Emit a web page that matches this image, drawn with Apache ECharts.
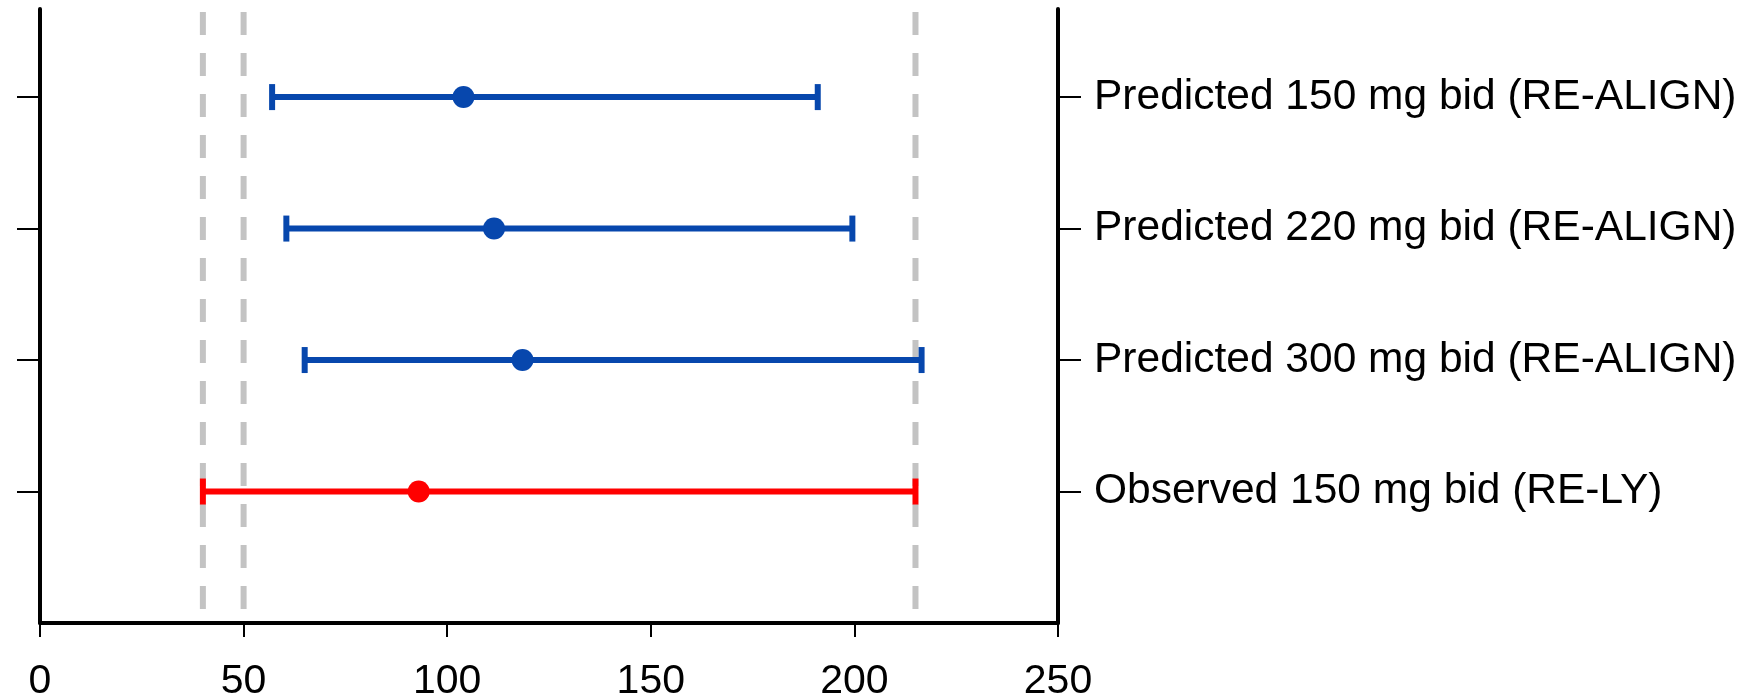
<!DOCTYPE html>
<html>
<head>
<meta charset="utf-8">
<script src="https://cdn.jsdelivr.net/npm/echarts@6/dist/echarts.min.js"></script>
<style>
html,body{margin:0;padding:0;background:#fff;}
#main{width:1756px;height:697px;}
</style>
</head>
<body>
<div id="main"></div>
<script>
// ---- data (bottom to top) ----
const categories = [
  'Observed 150 mg bid (RE-LY)',
  'Predicted 300 mg bid (RE-ALIGN)',
  'Predicted 220 mg bid (RE-ALIGN)',
  'Predicted 150 mg bid (RE-ALIGN)'
];
const medians = [93, 118.5, 111.5, 104];
const lower   = [40, 65, 60.5, 57];
const upper   = [215, 216.5, 199.5, 191];
const refLines = [40, 50, 215];
const xTickMin = 0, xTickMax = 250, xTickStep = 50;

// ---- styles ----
const FONT = '"Liberation Sans", Arial, sans-serif';
const RED = '#ff0000', BLUE = '#0747ad';
const rowColor = i => (i === 0 ? RED : BLUE);
const Y_MAX = 4.67;
const yPos = categories.map((c, i) => i + 1);

const chart = echarts.init(document.getElementById('main'), null, {renderer: 'canvas'});

const barData = categories.map((c, i) => [yPos[i], lower[i], upper[i], i]);
const pointData = categories.map((c, i) => ({
  value: [medians[i], yPos[i]],
  itemStyle: {color: rowColor(i), opacity: 1}
}));

const axisLineStyle = {color: '#000', width: 4};

chart.setOption({
  animation: false,
  grid: {left: 40, right: 698, top: 9, bottom: 74, containLabel: false, outerBoundsMode: 'none'},
  xAxis: {
    type: 'value', min: xTickMin, max: xTickMax, interval: xTickStep,
    axisLine: {show: true, lineStyle: axisLineStyle, onZero: false},
    axisTick: {show: true, length: 14, lineStyle: {color: '#000', width: 2}},
    axisLabel: {color: '#000', fontSize: 41, fontFamily: FONT, margin: 38},
    splitLine: {show: false}
  },
  yAxis: [
    {
      type: 'value', min: 0, max: Y_MAX, position: 'left',
      axisLine: {show: true, lineStyle: axisLineStyle, onZero: false},
      axisTick: {show: true, length: 23, lineStyle: {color: '#000', width: 2}, customValues: yPos},
      axisLabel: {show: false},
      splitLine: {show: false}
    },
    {
      type: 'value', min: 0, max: Y_MAX, position: 'right',
      axisLine: {show: true, lineStyle: axisLineStyle, onZero: false},
      axisTick: {show: true, length: 23, lineStyle: {color: '#000', width: 2}, customValues: yPos},
      axisLabel: {
        show: true, customValues: yPos, color: '#000', fontSize: 42.5, fontFamily: FONT, margin: 36,
        formatter: v => categories[Math.round(v) - 1] || ''
      },
      splitLine: {show: false}
    }
  ],
  series: [
    {
      type: 'custom',
      name: 'ref',
      z: 1,
      data: refLines.map(v => [v]),
      renderItem: (params, api) => {
        const top = api.coord([api.value(0), Y_MAX]);
        const bot = api.coord([api.value(0), 0]);
        return {
          type: 'line',
          shape: {x1: top[0], y1: top[1] + 3, x2: bot[0], y2: bot[1]},
          style: {stroke: '#c3c3c3', lineWidth: 6, lineDash: [23, 18]}
        };
      }
    },
    {
      type: 'custom',
      name: 'ci',
      z: 2,
      data: barData,
      encode: {x: [1, 2], y: 0},
      renderItem: (params, api) => {
        const y = api.value(0);
        const p1 = api.coord([api.value(1), y]);
        const p2 = api.coord([api.value(2), y]);
        const col = rowColor(api.value(3));
        const capH = 26, capW = 6;
        return {
          type: 'group',
          children: [
            {type: 'line', shape: {x1: p1[0], y1: p1[1], x2: p2[0], y2: p2[1]},
             style: {stroke: col, lineWidth: 6}},
            {type: 'rect', shape: {x: p1[0] - capW / 2, y: p1[1] - capH / 2, width: capW, height: capH},
             style: {fill: col}},
            {type: 'rect', shape: {x: p2[0] - capW / 2, y: p2[1] - capH / 2, width: capW, height: capH},
             style: {fill: col}}
          ]
        };
      }
    },
    {
      type: 'scatter',
      name: 'median',
      z: 3,
      symbol: 'circle',
      symbolSize: 22,
      itemStyle: {opacity: 1},
      data: pointData
    }
  ]
});
</script>
</body>
</html>
